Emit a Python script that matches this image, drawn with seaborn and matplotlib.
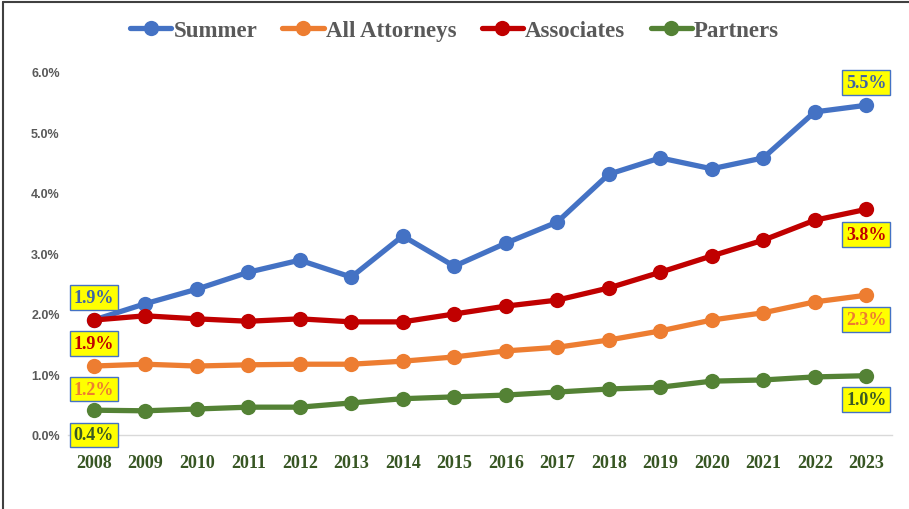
import matplotlib
matplotlib.use("Agg")
import matplotlib.pyplot as plt
import seaborn as sns
import pandas as pd
from matplotlib.lines import Line2D

years = list(range(2008, 2024))
summer = [1.90, 2.17, 2.41, 2.69, 2.89, 2.61, 3.29, 2.79, 3.17, 3.52, 4.31, 4.58, 4.40, 4.58, 5.34, 5.45]
all_attorneys = [1.14, 1.17, 1.14, 1.16, 1.17, 1.17, 1.22, 1.29, 1.39, 1.45, 1.57, 1.72, 1.90, 2.02, 2.20, 2.31]
associates = [1.90, 1.97, 1.92, 1.88, 1.92, 1.87, 1.87, 2.00, 2.13, 2.23, 2.43, 2.69, 2.96, 3.22, 3.55, 3.73]
partners = [0.41, 0.40, 0.43, 0.46, 0.46, 0.53, 0.60, 0.63, 0.66, 0.71, 0.76, 0.79, 0.89, 0.91, 0.96, 0.98]

series_names = ["Summer", "All Attorneys", "Associates", "Partners"]
colors = {"Summer": "#4472C4", "All Attorneys": "#ED7D31",
          "Associates": "#C00000", "Partners": "#548235"}
text_colors = {"Summer": "#3D62A8", "All Attorneys": "#ED7D31",
               "Associates": "#C00000", "Partners": "#3B5A24"}

frames = []
for name, vals in zip(series_names, [summer, all_attorneys, associates, partners]):
    frames.append(pd.DataFrame({"idx": range(len(years)), "val": vals, "series": name}))
df = pd.concat(frames, ignore_index=True)

sns.set_style("white")
fig = plt.figure(figsize=(9.09, 5.10), dpi=100)
ax = fig.add_axes([68 / 909, 1 - 436 / 510, (892 - 68) / 909, (436 - 73) / 510])

sns.lineplot(data=df, x="idx", y="val", hue="series", palette=colors,
             marker="o", markersize=11, markeredgewidth=0, linewidth=3.8,
             ax=ax, legend=False)

ax.set_xlim(-0.5, 15.5)
ax.set_ylim(0, 6)
ax.set_yticks([0, 1, 2, 3, 4, 5, 6])
ax.set_yticklabels([f"{v:.1f}%" for v in range(7)], fontsize=9, fontweight="bold",
                   color="#595959", family="Liberation Sans")
ax.set_xticks(range(len(years)))
ax.set_xticklabels([str(y) for y in years], fontsize=13, fontweight="bold",
                   color="#375623", family="Liberation Serif")
ax.tick_params(axis="both", length=0)
ax.tick_params(axis="y", pad=6)
ax.tick_params(axis="x", pad=14)
ax.set_xlabel("")
ax.set_ylabel("")
for s in ["top", "right", "left"]:
    ax.spines[s].set_visible(False)
ax.spines["bottom"].set_color("#D9D9D9")
ax.spines["bottom"].set_linewidth(1)

box = dict(boxstyle="square,pad=0.22", facecolor="#FFFF00", edgecolor="#4472C4", linewidth=1)
lab_kw = dict(fontsize=13, fontweight="bold", family="Liberation Serif",
              ha="center", va="center", bbox=box, zorder=5)

# left labels (2008)
ax.text(0, summer[0] + 0.38, "1.9%", color=text_colors["Summer"], **lab_kw)
ax.text(0, associates[0] - 0.38, "1.9%", color=text_colors["Associates"], **lab_kw)
ax.text(0, all_attorneys[0] - 0.38, "1.2%", color=text_colors["All Attorneys"], **lab_kw)
ax.text(0, partners[0] - 0.41, "0.4%", color=text_colors["Partners"], **lab_kw)
# right labels (2023)
ax.text(15, summer[-1] + 0.37, "5.5%", color=text_colors["Summer"], **lab_kw)
ax.text(15, associates[-1] - 0.41, "3.8%", color=text_colors["Associates"], **lab_kw)
ax.text(15, all_attorneys[-1] - 0.40, "2.3%", color=text_colors["All Attorneys"], **lab_kw)
ax.text(15, partners[-1] - 0.40, "1.0%", color=text_colors["Partners"], **lab_kw)

handles = [Line2D([0], [0], color=colors[n], linewidth=3.8, marker="o", markersize=11,
                  markeredgewidth=0) for n in series_names]
leg = fig.legend(handles, series_names, loc="center", bbox_to_anchor=(0.5, 1 - 31 / 510),
                 ncol=4, frameon=False, handlelength=1.8, handletextpad=0.1,
                 columnspacing=1.1, prop={"family": "Liberation Serif", "weight": "bold",
                                          "size": 16.5})
for t in leg.get_texts():
    t.set_color("#595959")

# chart border (left and top edges visible)
fig.add_artist(Line2D([3 / 909, 3 / 909], [0, 1 - 3 / 510], color="#404040", linewidth=1.5))
fig.add_artist(Line2D([3 / 909, 1], [1 - 3 / 510, 1 - 3 / 510], color="#404040", linewidth=1.5))

fig.savefig("out.png", dpi=100)
